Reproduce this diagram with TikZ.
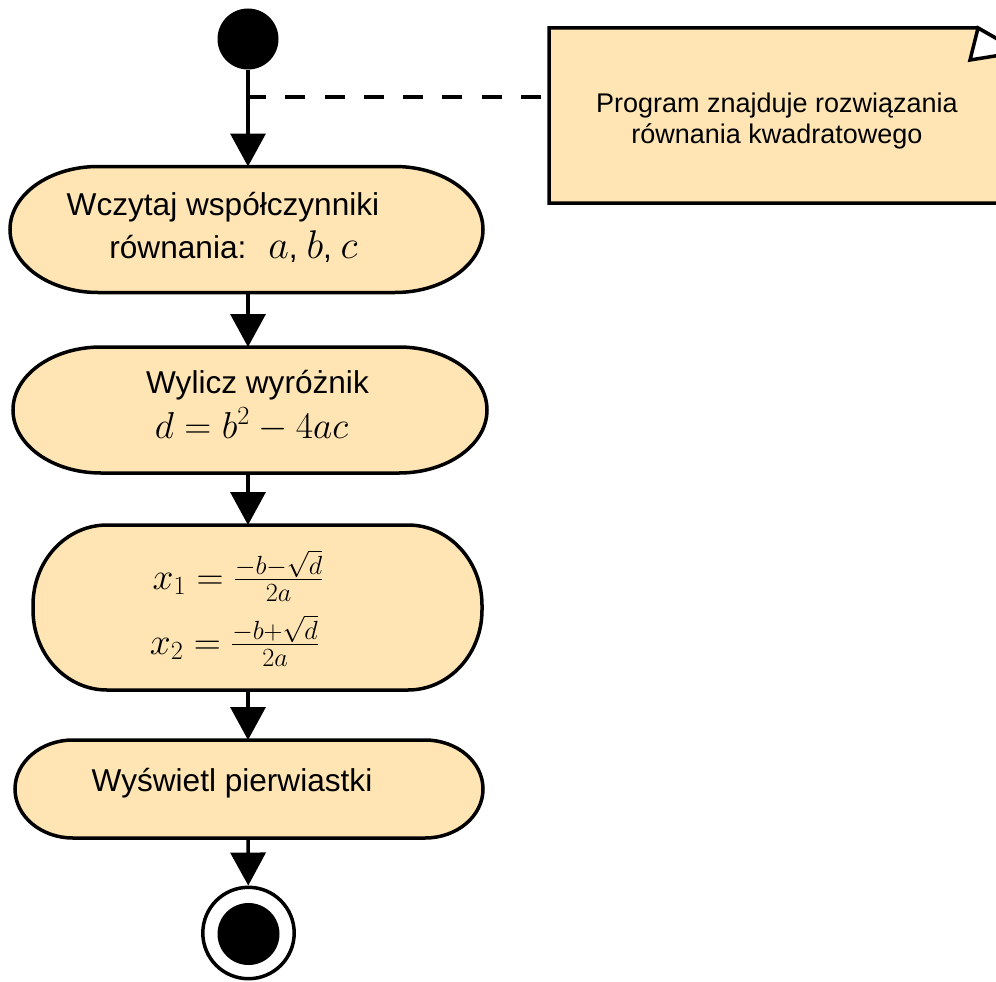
\RequirePackage{fix-cm}
\documentclass[tikz,border=0pt]{standalone}
\usepackage{fontspec}
\setmainfont{Liberation Sans}
\usetikzlibrary{arrows.meta,calc}

\definecolor{actfill}{RGB}{255,229,180}

% math set a little larger than the surrounding text
\newcommand\mth[1]{{\fontsize{37.5}{44}\selectfont$#1$}}

% activity outline: straight top/bottom, elliptic ends (x radius #2, y radius #3)
\newcommand\pillpath[3]{%
  \pgfmathsetmacro\pr{#2}\pgfmathsetmacro\qx{0.4477*#2}%
  \pgfmathsetmacro\ry{#3}\pgfmathsetmacro\qy{0.4477*#3}%
  \draw[pill] ($(#1.north west)+(\pr,0)$) -- ($(#1.north east)+(-\pr,0)$)
    .. controls ($(#1.north east)+(-\qx,0)$) and ($(#1.north east)+(0,\qy)$) .. ($(#1.north east)+(0,\ry)$)
    -- ($(#1.south east)+(0,-\ry)$)
    .. controls ($(#1.south east)+(0,-\qy)$) and ($(#1.south east)+(-\qx,0)$) .. ($(#1.south east)+(-\pr,0)$)
    -- ($(#1.south west)+(\pr,0)$)
    .. controls ($(#1.south west)+(\qx,0)$) and ($(#1.south west)+(0,-\qy)$) .. ($(#1.south west)+(0,-\ry)$)
    -- ($(#1.north west)+(0,\ry)$)
    .. controls ($(#1.north west)+(0,\qy)$) and ($(#1.north west)+(\qx,0)$) .. cycle;}

\tikzset{
  actbox/.style 2 args={rectangle, draw=none, inner sep=0pt, outer sep=0pt,
    minimum width=#1pt, minimum height=#2pt},
  pill/.style={draw=black, fill=actfill, line width=3.5pt},
  txt/.style={inner sep=0pt, anchor=base, font=\fontsize{31.6}{38}\selectfont},
  notetxt/.style={inner sep=0pt, anchor=base, font=\fontsize{27}{31}\selectfont},
  flow/.style={draw=black, line width=3.5pt, -{Triangle[length=33pt,width=35pt]}},
  notelink/.style={draw=black, line width=3.5pt, dash pattern=on 20pt off 19.3pt, dash phase=31.3pt},
  initial/.style={circle, fill=black, draw=none, inner sep=0pt, minimum size=61pt},
  finalring/.style={circle, fill=white, draw=black, line width=3.5pt, inner sep=0pt, minimum size=91.4pt},
  finaldot/.style={circle, fill=black, draw=none, inner sep=0pt, minimum size=62pt},
}

\begin{document}
\begin{tikzpicture}[x=1pt, y=-1pt]
  \useasboundingbox (0,0) rectangle (996,982);
  \clip (0,0) rectangle (996,982);

  % start and end markers
  \node[initial] (start) at (248,39) {};
  \node[finalring] (endo) at (248.5,933) {};
  \node[finaldot] (endi) at (248.5,934) {};

  % activity frames
  \node[actbox={473}{126}] (n1) at (246.5,229.5) {};
  \node[actbox={474}{126}] (n2) at (250,410) {};
  \node[actbox={449}{165}] (n3) at (257.5,607.5) {};
  \node[actbox={468}{98}]  (n4) at (249,789) {};
  \pillpath{n1}{88}{63}
  \pillpath{n2}{88}{63}
  \pillpath{n3}{74}{80}
  \pillpath{n4}{58}{49}

  % activity texts
  \node[txt] (t1a) at (223,215) {Wczytaj współczynniki};
  \node[txt] (t1b) at (233.5,258) {równania:\hspace{22pt}{\fontsize{40}{46}\selectfont$a$}, {\fontsize{40}{46}\selectfont$b$}, {\fontsize{40}{46}\selectfont$c$}};
  \node[txt] (t2a) at (257.5,393) {Wylicz wyróżnik};
  \node[txt] (t2b) at (251.5,438) {\mth{d=b^2-4ac}};
  \node[txt] (t3a) at (238,589) {\mth{x_1=\frac{-b-\sqrt{d}}{2a}}};
  \node[txt] (t3b) at (234.5,654) {\mth{x_2=\frac{-b+\sqrt{d}}{2a}}};
  \node[txt] (t4)  at (232,791) {Wyświetl pierwiastki};

  % comment note with folded corner
  \node[actbox={471}{175}] (note) at (784.5,115.5) {};
  \draw[pill, line join=miter] (note.north west) -- ($(note.north east)+(-42,0)$)
    -- ($(note.north east)+(0,24)$) -- (note.south east) -- (note.south west) -- cycle;
  \draw[draw=black, fill=white, line width=3.5pt, line join=miter]
    ($(note.north east)+(-42,0)$) -- ($(note.north east)+(-50,32)$)
    -- ($(note.north east)+(0,24)$) -- cycle;
  \node[notetxt] (nt1) at (777,112) {Program znajduje rozwiązania};
  \node[notetxt] (nt2) at (777,143) {równania kwadratowego};

  % control flow
  \coordinate (tap) at (248,97);
  \draw[flow] (start) -- (start |- n1.north);
  \draw[flow] (n1.south -| start) -- (n2.north -| start);
  \draw[flow] (n2.south -| start) -- (n3.north -| start);
  \draw[flow] (n3.south -| start) -- (n4.north -| start);
  \draw[flow] (n4.south -| start) -- (endo);

  % note attachment
  \draw[notelink] (note.west |- tap) -- (tap);
\end{tikzpicture}
\end{document}
